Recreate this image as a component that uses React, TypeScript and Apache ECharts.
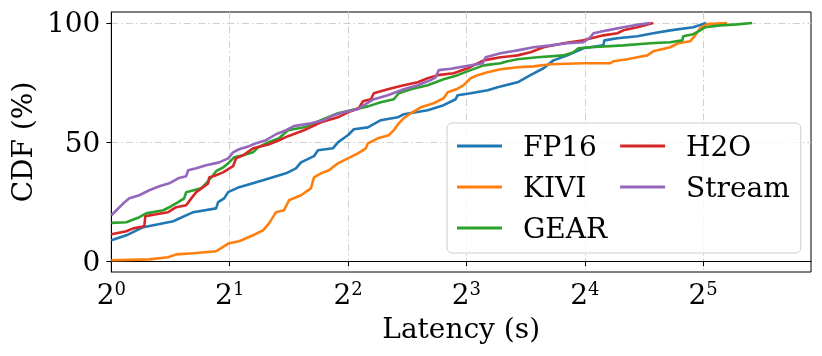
import React, { useEffect, useRef } from "react";
import * as echarts from "echarts";

const FONT = "DejaVu Serif";

const seriesNames = ["FP16", "KIVI", "GEAR", "H2O", "Stream"];
const seriesColors = ["#1f77b4", "#ff7f0e", "#2ca02c", "#d62728", "#9467bd"];

const xTickExponents = [0, 1, 2, 3, 4, 5];
const yTickValues = [0, 50, 100];

// Latency in seconds, CDF in percent
const fp16Latency = [1.0, 1.092, 1.206, 1.437, 1.615, 1.847, 1.869, 1.936, 1.982, 2.113, 2.431, 2.781, 2.948, 3.036, 3.276, 3.353, 3.66, 3.769, 3.995, 4.138, 4.491, 4.846, 5.352, 5.542, 6.376, 7.0, 7.51, 7.6, 8.2, 9.06, 9.6, 10.79, 11.64, 12.56, 13.32, 14.45, 15.87, 17.84, 17.94, 19.36, 21.76, 23.89, 26.39, 30.19, 32.57];
const fp16Cdf = [8.8, 10.9, 14.3, 16.8, 20.6, 22.2, 24.8, 26.4, 29.0, 31.1, 34.0, 36.9, 39.0, 41.5, 44.1, 46.6, 47.4, 49.9, 52.9, 55.4, 56.2, 59.2, 60.4, 61.7, 63.4, 65.5, 68.0, 69.7, 70.5, 71.8, 73.0, 75.1, 78.1, 81.0, 84.3, 86.4, 89.4, 90.6, 92.7, 93.6, 94.4, 95.7, 96.9, 98.2, 100];

const kiviLatency = [1.0, 1.249, 1.395, 1.462, 1.615, 1.847, 1.902, 1.993, 2.113, 2.293, 2.431, 2.518, 2.623, 2.749, 2.83, 3.036, 3.218, 3.276, 3.412, 3.576, 3.769, 3.995, 4.236, 4.438, 4.491, 4.761, 5.077, 5.228, 5.383, 5.542, 5.776, 6.122, 6.604, 7.0, 7.17, 7.6, 7.87, 8.2, 8.54, 9.06, 9.77, 10.79, 11.85, 13.09, 15.87, 18.58, 18.91, 20.52, 21.76, 23.07, 23.89, 26.39, 27.65, 29.65, 30.53, 31.45, 32.76, 36.81];
const kiviCdf = [0.4, 0.8, 1.7, 2.9, 3.4, 4.2, 5.5, 7.6, 8.4, 10.9, 13.0, 15.9, 20.6, 21.4, 25.6, 27.7, 30.6, 35.2, 36.9, 38.2, 41.1, 43.2, 45.3, 47.4, 49.5, 51.6, 52.9, 55.0, 57.9, 60.0, 62.1, 64.6, 66.3, 68.4, 70.9, 72.4, 73.9, 76.8, 78.1, 79.3, 80.6, 81.4, 81.8, 82.7, 83.1, 83.1, 83.9, 84.8, 85.6, 86.4, 88.1, 89.8, 91.5, 92.3, 94.8, 97.8, 99.5, 100];

const gearLatency = [1.0, 1.092, 1.178, 1.227, 1.355, 1.42, 1.479, 1.532, 1.55, 1.692, 1.742, 1.815, 1.847, 1.924, 1.993, 2.052, 2.163, 2.293, 2.361, 2.474, 2.67, 2.813, 3.089, 3.412, 3.769, 4.067, 4.491, 4.846, 5.228, 5.383, 5.776, 6.376, 7.0, 7.6, 8.2, 8.85, 9.77, 10.18, 10.79, 12.13, 14.12, 14.97, 15.41, 16.53, 20.05, 23.47, 26.39, 28.31, 28.47, 30.19, 31.45, 32.39, 35.35, 39.04, 42.6];
const gearCdf = [16.1, 16.4, 18.5, 20.1, 21.4, 23.1, 24.8, 26.4, 29.0, 30.6, 32.7, 36.1, 37.8, 39.4, 41.5, 43.6, 44.5, 45.7, 47.8, 49.5, 51.6, 55.0, 56.2, 59.2, 62.1, 63.4, 65.0, 66.7, 68.0, 70.5, 72.2, 73.9, 76.4, 78.1, 80.2, 82.2, 83.1, 83.9, 84.8, 85.6, 86.4, 87.7, 89.4, 89.8, 90.6, 91.5, 91.9, 92.7, 94.4, 95.3, 96.9, 98.2, 99.0, 99.4, 100];

const h2oLatency = [1.0, 1.092, 1.137, 1.213, 1.22, 1.301, 1.395, 1.462, 1.55, 1.597, 1.644, 1.712, 1.763, 1.773, 1.847, 1.924, 2.04, 2.076, 2.163, 2.293, 2.518, 2.67, 2.813, 3.089, 3.412, 3.769, 3.995, 4.26, 4.362, 4.571, 4.652, 5.048, 5.542, 6.015, 6.376, 6.762, 7.42, 8.06, 8.85, 9.77, 10.79, 11.64, 12.56, 14.12, 15.87, 17.84, 19.36, 20.05, 21.76, 23.89];
const h2oCdf = [11.3, 12.6, 13.8, 14.7, 18.9, 19.7, 20.6, 22.7, 23.5, 26.4, 29.0, 31.1, 32.7, 35.2, 36.1, 37.3, 39.9, 43.2, 44.5, 47.4, 49.1, 50.8, 52.5, 55.0, 58.3, 60.4, 62.5, 64.2, 67.1, 68.0, 70.5, 72.2, 73.9, 75.1, 76.8, 78.1, 78.9, 81.0, 84.3, 85.6, 86.4, 87.7, 89.8, 91.5, 92.7, 94.8, 95.7, 96.9, 98.2, 100];

const streamLatency = [1.0, 1.03, 1.073, 1.111, 1.178, 1.249, 1.324, 1.404, 1.479, 1.55, 1.568, 1.644, 1.742, 1.88, 1.982, 2.04, 2.113, 2.24, 2.334, 2.474, 2.623, 2.781, 2.914, 3.218, 3.472, 3.681, 3.903, 4.236, 4.387, 4.652, 5.048, 5.542, 6.015, 6.49, 6.68, 6.8, 7.3, 8.2, 8.8, 8.95, 9.77, 10.79, 11.85, 13.09, 14.45, 15.87, 16.53, 16.83, 18.26, 20.05, 22.14, 23.47];
const streamCdf = [19.3, 21.4, 24.3, 26.4, 27.7, 29.8, 31.5, 32.7, 34.8, 35.7, 38.2, 39.0, 40.3, 41.5, 43.2, 45.7, 47.0, 48.3, 49.5, 50.8, 53.3, 55.0, 56.7, 57.9, 59.2, 61.3, 62.5, 63.8, 65.5, 68.0, 69.7, 72.2, 73.9, 76.0, 77.2, 80.2, 80.8, 82.2, 83.1, 85.6, 87.3, 88.5, 89.8, 90.6, 91.5, 91.9, 94.0, 95.7, 96.9, 98.2, 99.4, 100];

const latencies = [fp16Latency, kiviLatency, gearLatency, h2oLatency, streamLatency];
const cdfs = [fp16Cdf, kiviCdf, gearCdf, h2oCdf, streamCdf];

export default function App() {
  const ref = useRef<HTMLDivElement>(null);

  useEffect(() => {
    if (!ref.current) return;
    const chart = echarts.init(ref.current, undefined, { renderer: "svg" });
    const gridLine = { show: true, lineStyle: { color: "#cfcfcf", width: 1, type: [7, 3, 1.5, 3] } };
    const option: any = {
      animation: false,
      textStyle: { fontFamily: FONT },
      grid: { left: 110, right: 11, top: 12, bottom: 84, show: true, borderColor: "#000", borderWidth: 1 },
      legend: {
        data: seriesNames,
        orient: "vertical",
        left: 447,
        top: 123,
        height: 125,
        padding: [9, 11, 11, 10],
        itemGap: 13,
        itemWidth: 45,
        itemHeight: 3,
        icon: "rect",
        backgroundColor: "rgba(255,255,255,0.8)",
        borderColor: "#cccccc",
        borderWidth: 1,
        borderRadius: 5,
        formatter: (name: string) => `{t|${name}}`,
        textStyle: {
          fontFamily: FONT,
          fontSize: 28,
          color: "#000",
          rich: { t: { fontFamily: FONT, fontSize: 28, lineHeight: 30, color: "#000", padding: [0, 0, 0, 16] } },
        },
      },
      xAxis: {
        type: "value",
        min: 0,
        max: 5.911,
        name: "Latency (s)",
        nameLocation: "middle",
        nameGap: 42,
        nameTextStyle: { fontFamily: FONT, fontSize: 28, color: "#000" },
        axisLine: { show: true, lineStyle: { color: "#000", width: 1 } },
        axisTick: { show: true, length: 5, lineStyle: { color: "#000", width: 1 }, customValues: xTickExponents },
        axisLabel: {
          customValues: xTickExponents,
          margin: 7,
          color: "#000",
          fontFamily: FONT,
          formatter: (v: number) => `{b|2}{s|${v}}`,
          rich: {
            b: { fontFamily: FONT, fontSize: 28, lineHeight: 30, color: "#000" },
            s: { fontFamily: FONT, fontSize: 18, lineHeight: 18, verticalAlign: "top", color: "#000" },
          },
        },
        splitLine: gridLine,
      },
      yAxis: {
        type: "value",
        min: -4.5,
        max: 104.6,
        name: "CDF (%)",
        nameLocation: "middle",
        nameGap: 73,
        nameTextStyle: { fontFamily: FONT, fontSize: 28, color: "#000" },
        axisLine: { show: true, lineStyle: { color: "#000", width: 1 } },
        axisTick: { show: true, length: 5, lineStyle: { color: "#000", width: 1 }, customValues: yTickValues },
        axisLabel: { customValues: yTickValues, margin: 11, color: "#000", fontFamily: FONT, fontSize: 28 },
        splitLine: gridLine,
      },
      series: seriesNames.map((name, i) => ({
        name,
        type: "line",
        showSymbol: false,
        symbol: "none",
        color: seriesColors[i],
        lineStyle: { width: 2.6, color: seriesColors[i] },
        data: latencies[i].map((l, j) => [Math.log2(l), cdfs[i][j]]),
      })),
    };
    chart.setOption(option);
    return () => chart.dispose();
  }, []);

  return <div ref={ref} style={{ position: "fixed", left: 0, top: 0, width: 822, height: 356 }} />;
}
